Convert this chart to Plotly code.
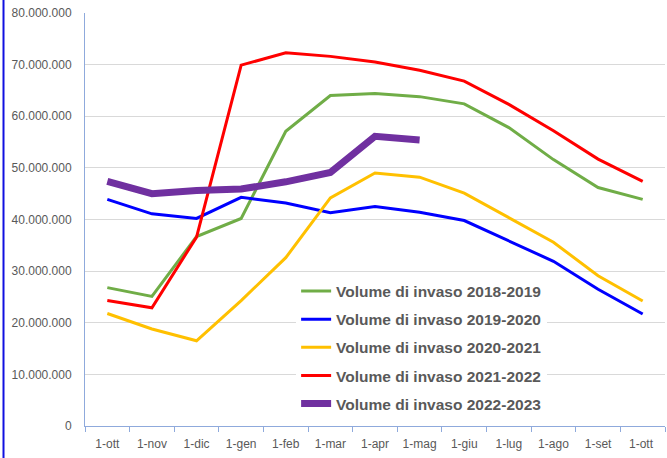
import plotly.graph_objects as go

months = ["1-ott", "1-nov", "1-dic", "1-gen", "1-feb", "1-mar", "1-apr",
          "1-mag", "1-giu", "1-lug", "1-ago", "1-set", "1-ott "]

v_2018_2019 = [26.8e6, 25.1e6, 36.7e6, 40.2e6, 57.1e6, 64.0e6, 64.4e6,
               63.8e6, 62.4e6, 57.8e6, 51.6e6, 46.2e6, 43.9e6]
v_2019_2020 = [43.9e6, 41.1e6, 40.2e6, 44.3e6, 43.2e6, 41.3e6, 42.5e6,
               41.4e6, 39.8e6, 35.9e6, 31.9e6, 26.5e6, 21.7e6]
v_2020_2021 = [21.8e6, 18.8e6, 16.5e6, 24.3e6, 32.6e6, 44.2e6, 49.0e6,
               48.2e6, 45.1e6, 40.4e6, 35.6e6, 29.1e6, 24.2e6]
v_2021_2022 = [24.3e6, 22.9e6, 36.6e6, 69.9e6, 72.3e6, 71.6e6, 70.5e6,
               68.9e6, 66.8e6, 62.3e6, 57.2e6, 51.7e6, 47.4e6]
v_2022_2023 = [47.4e6, 45.0e6, 45.6e6, 45.9e6, 47.3e6, 49.1e6, 56.1e6,
               55.4e6]

series_names = ["Volume di invaso 2018-2019", "Volume di invaso 2019-2020",
                "Volume di invaso 2020-2021", "Volume di invaso 2021-2022",
                "Volume di invaso 2022-2023"]
series_values = [v_2018_2019, v_2019_2020, v_2020_2021, v_2021_2022, v_2022_2023]
colors = ["#70AD47", "#0000FF", "#FFC000", "#FF0000", "#7030A0"]
widths = [3, 3, 3, 3, 7]

y_ticks = [0, 10e6, 20e6, 30e6, 40e6, 50e6, 60e6, 70e6, 80e6]

fig = go.Figure()
for i, (name, vals) in enumerate(zip(series_names, series_values)):
    fig.add_trace(go.Scatter(
        x=months[:len(vals)], y=vals, name=name, mode="lines",
        line=dict(color=colors[i], width=widths[i]),
        legendgroup=f"g{i}",
    ))

grey = "#595959"
axis_blue = "#8FAADC"

fig.update_layout(
    width=667, height=458,
    margin=dict(l=85, r=2, t=13, b=32),
    paper_bgcolor="white", plot_bgcolor="white",
    separators=",.",
    font=dict(family="Liberation Sans, Arial, sans-serif", size=12, color=grey),
    showlegend=True,
    legend=dict(
        x=0.364, y=0.367, xanchor="left", yanchor="top",
        bgcolor="white", borderwidth=0,
        font=dict(size=15.5, color=grey, family="Liberation Sans, Arial, sans-serif", weight="bold"),
        tracegroupgap=5, traceorder="grouped",
        itemwidth=30,
    ),
    xaxis=dict(
        type="category", categoryorder="array", categoryarray=months,
        showgrid=False, showline=True, linecolor=axis_blue, linewidth=1,
        ticks="outside", ticklen=5, tickcolor=axis_blue, tickson="boundaries",
        ticklabelstandoff=7,
        tickfont=dict(size=12, color=grey), automargin=False,
        range=[-0.5, len(months) - 0.5],
    ),
    yaxis=dict(
        range=[0, 80e6], tickvals=y_ticks, tickformat=",.0f",
        showgrid=True, gridcolor="#D9D9D9", gridwidth=1,
        showline=True, linecolor=axis_blue, linewidth=1,
        zeroline=False, ticks="", ticklabelstandoff=10, automargin=False,
        tickfont=dict(size=12, color=grey),
    ),
    shapes=[dict(type="line", xref="paper", yref="paper",
                 x0=-0.1405, x1=-0.1405, y0=-0.08, y1=1.04,
                 line=dict(color="#1010E0", width=2))],
)

fig.write_html("out.html",
               config={"displayModeBar": False},
               post_script="document.body.style.margin='0';document.body.style.overflow='hidden';")
